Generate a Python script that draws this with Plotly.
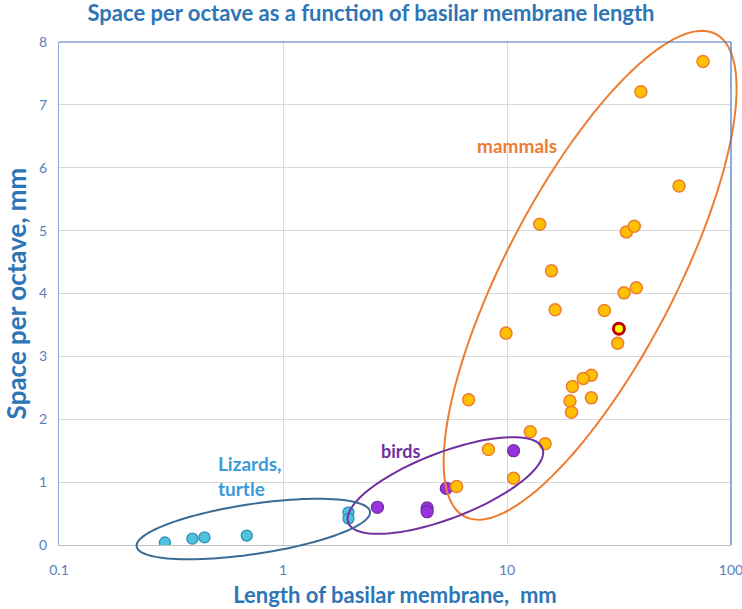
import numpy as np
import plotly.graph_objects as go

# ---------------- data ----------------
mammal_length = [75, 39.6, 58.6, 14.0, 34.1, 37.0, 15.8, 33.3, 37.8, 16.4, 27.2, 31.2, 9.9,
                 23.8, 21.9, 19.6, 19.1, 23.8, 19.4, 6.74, 12.7, 14.8, 8.26, 10.7, 5.96]
mammal_space = [7.69, 7.21, 5.71, 5.10, 4.98, 5.07, 4.36, 4.01, 4.09, 3.74, 3.73, 3.21, 3.37,
                2.70, 2.65, 2.52, 2.29, 2.34, 2.11, 2.31, 1.80, 1.61, 1.52, 1.06, 0.93]
human_length = [31.6]
human_space = [3.44]
bird_length = [10.7, 5.36, 2.64, 4.4, 4.4]
bird_space = [1.50, 0.90, 0.60, 0.59, 0.53]
lizard_length = [0.297, 0.394, 0.446, 0.689, 1.96, 1.96]
lizard_space = [0.04, 0.10, 0.12, 0.15, 0.52, 0.42]

x_tick_vals = [0.1, 1, 10, 100]
x_tick_text = ["0.1", "1", "10", "100"]
y_tick_vals = [0, 1, 2, 3, 4, 5, 6, 7, 8]

# group outlines: centre (data), semi-axes (px), angle (deg)
ellipses = [
    dict(cx=23.5, cy=4.29, a=272, b=85, ang=62.5, color="#ED7D31"),
    dict(cx=5.31, cy=0.946, a=104, b=33, ang=21, color="#7030A0"),
    dict(cx=0.737, cy=0.254, a=118, b=25, ang=8.5, color="#3B6A93"),
]

W, H = 742, 609
ML, MR, MT, MB = 59, 11, 42, 64
PW, PH = W - ML - MR, H - MT - MB
XR = [-1, 2]
YR = [0, 8]

FONT = "Lato"
BLUE = "#2E75B6"
TICK = "#5A7EC0"


def ellipse_path(e):
    t = np.linspace(0, 2 * np.pi, 120)
    th = np.radians(e["ang"])
    px0 = (np.log10(e["cx"]) - XR[0]) / (XR[1] - XR[0])
    py0 = (e["cy"] - YR[0]) / (YR[1] - YR[0])
    dx = e["a"] * np.cos(t) * np.cos(th) - e["b"] * np.sin(t) * np.sin(th)
    dy = e["a"] * np.cos(t) * np.sin(th) + e["b"] * np.sin(t) * np.cos(th)
    X = px0 + dx / PW
    Y = py0 + dy / PH
    pts = [f"{x:.5f},{y:.5f}" for x, y in zip(X, Y)]
    return "M " + " L ".join(pts) + " Z"


fig = go.Figure()

fig.add_trace(go.Scatter(x=lizard_length, y=lizard_space, mode="markers",
                         marker=dict(size=11, color="#4FC3DE", line=dict(color="#2E8FB5", width=1.3))))
fig.add_trace(go.Scatter(x=bird_length, y=bird_space, mode="markers",
                         marker=dict(size=12, color="#9933E0", line=dict(color="#7030A0", width=1.3))))
fig.add_trace(go.Scatter(x=mammal_length, y=mammal_space, mode="markers",
                         marker=dict(size=12, color="#FFC000", line=dict(color="#ED7D31", width=1.5))))
fig.add_trace(go.Scatter(x=human_length, y=human_space, mode="markers",
                         marker=dict(size=11, color="#FFFF00", line=dict(color="#C00000", width=3))))

shapes = []
for e in ellipses:
    shapes.append(dict(type="path", xref="paper", yref="paper", path=ellipse_path(e),
                       line=dict(color=e["color"], width=2), fillcolor="rgba(0,0,0,0)"))
# frame lines (top / right in blue)
shapes.append(dict(type="line", xref="paper", yref="paper", x0=0, x1=1, y0=1, y1=1,
                   line=dict(color="#4472C4", width=1.2)))
shapes.append(dict(type="line", xref="paper", yref="paper", x0=1, x1=1, y0=0, y1=1,
                   line=dict(color="#4472C4", width=1.2)))

fig.update_layout(
    width=W, height=H,
    margin=dict(l=ML, r=MR, t=MT, b=MB, autoexpand=False),
    paper_bgcolor="white", plot_bgcolor="white",
    showlegend=False,
    shapes=shapes,
    font=dict(family=FONT),
    title=dict(text="<b>Space per octave as a function of basilar membrane length</b>",
               x=0.5, xref="container", xanchor="center", y=0.978, yref="container", yanchor="middle",
               font=dict(family=FONT, size=22, color=BLUE)),
    xaxis=dict(type="log", range=XR, tickvals=x_tick_vals, ticktext=x_tick_text,
               showgrid=True, gridcolor="#D9D9D9", gridwidth=1,
               showline=True, linecolor="#BFBFBF", linewidth=1,
               ticks="", ticklabelstandoff=12, automargin=False,
               ticklabeloverflow="allow",
               tickfont=dict(family=FONT, size=14, color=TICK),
               title=dict(text="<b>Length of basilar membrane,  mm</b>", standoff=10,
                          font=dict(family=FONT, size=22, color=BLUE)),
               zeroline=False),
    yaxis=dict(range=YR, tickvals=y_tick_vals,
               showgrid=True, gridcolor="#D9D9D9", gridwidth=1,
               showline=True, linecolor="#8FAADC", linewidth=1,
               ticks="", ticklabelstandoff=8, automargin=False,
               ticklabeloverflow="allow",
               tickfont=dict(family=FONT, size=14, color=TICK),
               title=dict(text="<b>Space per octave, mm</b>", standoff=4,
                          font=dict(family=FONT, size=26, color=BLUE)),
               zeroline=False),
    annotations=[
        dict(x=np.log10(11.1), y=6.36, xref="x", yref="y", text="<b>mammals</b>", showarrow=False,
             font=dict(family=FONT, size=19, color="#ED7D31")),
        dict(x=np.log10(3.33), y=1.49, xref="x", yref="y", text="<b>birds</b>", showarrow=False,
             font=dict(family=FONT, size=18, color="#7030A0")),
        dict(x=np.log10(0.502), y=1.105, xref="x", yref="y", text="<b>Lizards,<br>turtle</b>",
             showarrow=False, align="left", xanchor="left",
             font=dict(family=FONT, size=19, color="#3A9AD9")),
    ],
)

fig.write_html("out.html", config={"displayModeBar": False},
               post_script="document.body.style.margin='0';document.body.style.overflow='hidden';")
